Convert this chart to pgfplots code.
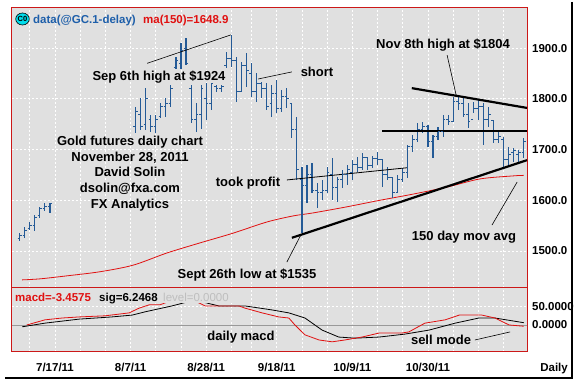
\documentclass[border=0pt]{standalone}
\usepackage{pgfplots}
\pgfplotsset{compat=1.18}
\usepackage{pgfplotstable}
\usepackage{fontspec}
\setmainfont{Liberation Sans}

\definecolor{bggray}{RGB}{224,224,224}
\definecolor{framered}{RGB}{204,24,24}
\definecolor{barblue}{RGB}{36,90,150}
\definecolor{mared}{RGB}{224,16,16}
\definecolor{legblue}{RGB}{30,95,170}
\definecolor{lvlgray}{RGB}{190,190,190}
\definecolor{iconcyan}{RGB}{0,220,235}

\newcommand{\anno}{\fontsize{13}{15.7}\selectfont\bfseries}
\newcommand{\tickf}{\fontsize{11.5}{13}\selectfont\bfseries}

\pgfdeclareplotmark{rtick}{\pgfpathmoveto{\pgfpoint{0pt}{0pt}}\pgfpathlineto{\pgfpoint{2.2pt}{0pt}}\pgfusepathqstroke}
\pgfdeclareplotmark{ltick}{\pgfpathmoveto{\pgfpoint{-2.2pt}{0pt}}\pgfpathlineto{\pgfpoint{0pt}{0pt}}\pgfusepathqstroke}

\pgfplotstableread{
i o h l c
-7 1524 1535 1520 1530
-6 1530 1547 1526 1541
-5 1545 1557 1541 1550
-4 1550 1571 1539 1566
-3 1570 1587 1565 1583
-2 1583 1595 1579 1588
-1 1588 1595 1575 1593
16 1745 1784 1732 1775
17 1770 1801 1738 1745
18 1750 1821 1738 1800
19 1760 1768 1734 1745
20 1745 1768 1732 1760
21 1765 1792 1762 1785
22 1785 1801 1764 1790
23 1790 1827 1784 1820
24 1862 1882 1858 1875
25 1870 1910 1858 1895
26 1900 1920 1866 1870
27 1820 1827 1752 1760
28 1760 1792 1734 1770
29 1770 1827 1740 1820
30 1800 1831 1758 1790
31 1790 1831 1778 1830
32 1825 1827 1813 1820
33 1820 1827 1813 1825
34 1865 1892 1860 1880
35 1880 1925 1862 1875
36 1875 1882 1794 1815
37 1815 1872 1813 1865
38 1865 1890 1823 1855
39 1850 1870 1803 1815
40 1815 1851 1794 1830
41 1830 1833 1801 1820
42 1820 1831 1778 1785
43 1790 1827 1764 1810
44 1810 1837 1772 1780
45 1780 1817 1774 1805
46 1805 1821 1782 1800
47 1790 1792 1723 1740
48 1740 1764 1640 1660
49 1640 1665 1535 1630
50 1630 1669 1595 1650
51 1650 1673 1614 1620
52 1620 1634 1585 1615
53 1615 1640 1600 1620
54 1620 1665 1614 1655
55 1650 1683 1600 1625
56 1625 1646 1597 1640
57 1640 1660 1624 1650
58 1650 1669 1630 1660
59 1655 1679 1640 1670
60 1670 1685 1656 1665
61 1665 1693 1660 1685
62 1685 1685 1660 1668
63 1668 1687 1664 1682
64 1682 1695 1669 1680
65 1680 1679 1626 1650
66 1650 1665 1640 1645
67 1645 1646 1604 1615
68 1615 1650 1614 1640
69 1640 1663 1636 1655
70 1655 1709 1644 1705
71 1705 1729 1695 1720
72 1720 1752 1715 1740
73 1740 1754 1733 1745
74 1745 1748 1705 1715
75 1715 1729 1683 1725
76 1725 1744 1719 1735
77 1735 1768 1725 1760
78 1760 1768 1748 1755
79 1755 1803 1754 1795
80 1795 1807 1778 1790
81 1790 1803 1764 1770
82 1770 1792 1742 1755
83 1760 1794 1772 1780
84 1780 1798 1758 1785
85 1785 1792 1709 1760
86 1760 1784 1744 1770
87 1758 1758 1713 1720
88 1720 1738 1713 1725
89 1720 1725 1665 1680
90 1680 1705 1669 1690
91 1695 1703 1675 1698
92 1690 1699 1675 1695
93 1695 1723 1683 1715
}\ohlc

\pgfplotstableread{
i v
-6.5 1443
-3 1445
2.4 1451
8.9 1459
15.5 1472
22.2 1496
28.8 1516
35.3 1535
42 1557
47.2 1569
51.2 1575
57.9 1587
64.5 1600
71 1612
77.8 1626
84.3 1642
90.9 1648
93 1649
}\ma

\pgfplotstableread{
i v
-5.6 0
-2 14
1.4 19
4.8 22
9.9 25
14.7 33
16.7 46
18.7 55
20.8 55
23 66
26 76
28 64
29.8 52
36.5 52
37.7 46
41.1 33
44.4 22
46.4 19
47.6 0
49.6 -27
52.4 -41
55 -46
57.5 -41
60.9 -33
64.3 -22
68.8 -22
70.2 -19
73.4 5
77.4 14
80.2 27
82.7 27
84.7 27
87.3 19
90.1 0
93 -3.46
}\macd

\pgfplotstableread{
i v
-6.5 -5
-2 5
4.8 16
11.3 22
15.3 27
17.9 36
23.2 52
26 62
29.5 62
32.5 52
37.7 52
43.1 41
46.4 33
49.6 19
53 -14
56.3 -33
59.5 -36
64.3 -33
69.4 -25
74.2 -14
79.4 5
84.1 19
87.3 19
93 6.25
}\sig

\begin{document}
\begin{tikzpicture}
\useasboundingbox (0pt,0pt) rectangle (583pt,387pt);
\fill[white] (0pt,0pt) rectangle (583pt,387pt);

% price panel
\begin{axis}[
  at={(12pt,99pt)}, anchor=south west,
  width=515pt, height=280pt, scale only axis,
  xmin=-8.53, xmax=93.65, ymin=1427, ymax=1979,
  axis background/.style={fill=bggray},
  axis line style={framered, line width=1pt},
  xtick={-5,0,5,10,15,20,25,30,35,39,44,49,54,59,64,69,74,79,84,89},
  xticklabel=\empty,
  ytick={1500,1600,1700,1800,1900},
  yticklabels={1500.0,1600.0,1700.0,1800.0,1900.0},
  yticklabel pos=right,
  yticklabel style={anchor=west, inner sep=0pt, xshift=5pt, font=\tickf},
  major tick length=0pt,
  xmajorgrids, ymajorgrids,
  grid style={white, dash pattern=on 2pt off 2pt, line width=0.8pt},
]
\addplot[mared, line width=0.8pt, smooth] table[x=i, y=v] {\ma};
\addplot[barblue, line width=1pt, only marks, mark=rtick,
  error bars/.cd, y dir=both, y explicit, error mark=none,
  error bar style={barblue, line width=1.1pt}]
  table[x=i, y=c, y error plus expr=\thisrow{h}-\thisrow{c}, y error minus expr=\thisrow{c}-\thisrow{l}] {\ohlc};
\addplot[barblue, line width=1pt, only marks, mark=ltick] table[x=i, y=o] {\ohlc};
% trend lines
\draw[line width=2.2pt] (axis cs:70.8,1821) -- (axis cs:93.65,1782);
\draw[line width=2.2pt] (axis cs:64.9,1736) -- (axis cs:93.65,1736);
\draw[line width=2.2pt] (axis cs:47,1526) -- (axis cs:93.65,1679);
\draw[line width=0.8pt] (axis cs:46,1640) -- (axis cs:69.8,1664);
% pointer lines
\draw[line width=0.6pt] (axis cs:18.3,1870) -- (axis cs:34.9,1926);
\draw[line width=0.6pt] (axis cs:40.3,1839) -- (axis cs:47,1853);
\draw[line width=0.6pt] (axis cs:77.8,1886) -- (axis cs:79.6,1807);
\draw[line width=0.6pt] (axis cs:46,1478) -- (axis cs:48.8,1532);
\draw[line width=0.6pt] (axis cs:86.7,1551) -- (axis cs:91.7,1636);
\end{axis}

% macd panel
\begin{axis}[
  at={(12pt,35pt)}, anchor=south west,
  width=515pt, height=64pt, scale only axis,
  xmin=-8.53, xmax=93.65, ymin=-73.8, ymax=101,
  axis background/.style={fill=bggray},
  axis line style={framered, line width=1pt},
  xtick={0,15,30,44,59,74},
  xticklabels={7/17/11,8/7/11,8/28/11,9/18/11,10/9/11,10/30/11},
  minor xtick={-5,5,10,20,25,35,39,49,54,64,69,79,84,89},
  xticklabel style={anchor=base, inner sep=0pt, yshift=-20pt, font=\tickf},
  ytick={0,50},
  yticklabels={0.0000,50.0000},
  yticklabel pos=right,
  yticklabel style={anchor=west, inner sep=0pt, xshift=5pt, font=\tickf},
  major tick length=0pt, minor tick length=0pt,
  xmajorgrids, xminorgrids, ymajorgrids,
  grid style={white, dash pattern=on 2pt off 2pt, line width=0.8pt},
  minor grid style={white, dash pattern=on 2pt off 2pt, line width=0.8pt},
]
\draw[gray!80, line width=0.6pt] (axis cs:-8.53,0) -- (axis cs:93.65,0);
\addplot[black, line width=0.8pt] table[x=i, y=v] {\sig};
\addplot[mared, line width=0.8pt] table[x=i, y=v] {\macd};
\draw[line width=0.6pt] (axis cs:83.3,-41) -- (axis cs:90.3,-19);
\end{axis}

\begin{scope}[x=1pt,y=1pt]
% macd legend (opaque)
\fill[bggray] (13,387-303.5) rectangle (237,387-288.6);
\node[anchor=base west, inner sep=0pt, font=\tickf, text=mared] at (15,387-301.5) {macd=-3.4575};
\node[anchor=base west, inner sep=0pt, font=\tickf, text=black] at (99,387-301.5) {sig=6.2468};
\node[anchor=base west, inner sep=0pt, font=\fontsize{11.5}{13}\selectfont, text=lvlgray] at (163,387-301.5) {level=0.0000};

% top legend
\draw[black, line width=0.6pt, fill=iconcyan] (22.5,387-19) ellipse (6.8 and 6);
\node[inner sep=0pt, font=\fontsize{7.5}{8}\selectfont\bfseries] at (22.5,387-19) {C0};
\node[anchor=base west, inner sep=0pt, font=\tickf, text=legblue] at (33,387-23.2) {data(@GC.1-delay)};
\node[anchor=base west, inner sep=0pt, font=\tickf, text=mared] at (143,387-23.2) {ma(150)=1648.9};

% annotations
\node[inner sep=0pt, font=\anno] at (159,387-77) {Sep 6th high at \$1924};
\node[inner sep=0pt, font=\anno] at (317,387-72) {short};
\node[inner sep=0pt, font=\anno] at (443,387-45) {Nov 8th high at \$1804};
\node[inner sep=0pt, font=\anno] at (248,387-183) {took profit};
\node[inner sep=0pt, font=\anno] at (247,387-275) {Sept 26th low at \$1535};
\node[inner sep=0pt, font=\anno] at (464,387-237) {150 day mov avg};
\node[inner sep=0pt, font=\anno, align=center] at (130,387-173.5) {Gold futures daily chart\\November 28, 2011\\David Solin\\dsolin@fxa.com\\FX Analytics};
\node[inner sep=0pt, font=\anno] at (241,387-337) {daily macd};
\node[inner sep=0pt, font=\anno] at (441,387-340) {sell mode};

% right label and frame
\node[anchor=base east, inner sep=0pt, font=\tickf] at (568,387-372) {Daily};
\draw[line width=1.5pt] (572,385) -- (572,9) -- (5,9);
\end{scope}
\end{tikzpicture}
\end{document}
